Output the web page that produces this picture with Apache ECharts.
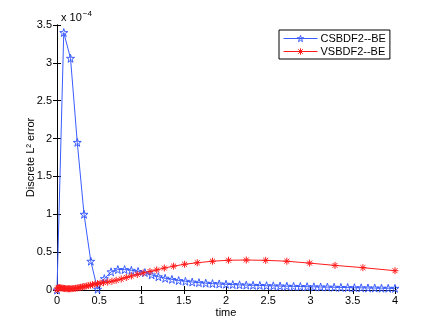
<!DOCTYPE html>
<html>
<head>
<meta charset="utf-8">
<script src="https://cdn.jsdelivr.net/npm/echarts@6/dist/echarts.min.js"></script>
<style>
  html, body { margin: 0; padding: 0; background: #fff; }
  #errChart { width: 436px; height: 327px; }
</style>
</head>
<body>
<div id="errChart"></div>
<script>
// time steps and errors (x 1e-4)
var csTime = [0, 0.08, 0.16, 0.24, 0.32, 0.40, 0.48, 0.56, 0.64, 0.72, 0.80, 0.88, 0.96, 1.04, 1.12, 1.20,
    1.28, 1.36, 1.44, 1.52, 1.60, 1.68, 1.76, 1.84, 1.92, 2.00, 2.08, 2.16, 2.24, 2.32, 2.40, 2.48, 2.56,
    2.64, 2.72, 2.80, 2.88, 2.96, 3.04, 3.12, 3.20, 3.28, 3.36, 3.44, 3.52, 3.60, 3.68, 3.76, 3.84, 3.92, 4.00];
var csErr = [0, 3.40, 3.06, 1.95, 1.00, 0.38, 0.01, 0.15, 0.24, 0.27, 0.27, 0.26, 0.245, 0.23, 0.20, 0.175,
    0.155, 0.14, 0.125, 0.115, 0.105, 0.097, 0.09, 0.085, 0.08, 0.076, 0.072, 0.068, 0.065, 0.062, 0.06, 0.057, 0.055,
    0.052, 0.05, 0.048, 0.046, 0.044, 0.042, 0.04, 0.038, 0.036, 0.034, 0.032, 0.03, 0.029, 0.027, 0.026, 0.024, 0.023, 0.022];

var vsTime = [0, 0.01, 0.02, 0.03, 0.045, 0.06, 0.075, 0.09, 0.105, 0.12, 0.135, 0.15, 0.165, 0.18, 0.2, 0.22,
    0.24, 0.26, 0.28, 0.3, 0.32, 0.345, 0.37, 0.395, 0.42, 0.45, 0.48, 0.51, 0.55, 0.6, 0.65, 0.7, 0.76, 0.82,
    0.88, 0.95, 1.02, 1.1, 1.18, 1.27, 1.38, 1.51, 1.66, 1.84, 2.03, 2.24, 2.47, 2.72, 2.99, 3.29, 3.62, 4.0];
var vsErr = [0, 0.025, 0.03, 0.03, 0.028, 0.025, 0.022, 0.02, 0.018, 0.017, 0.016, 0.016, 0.017, 0.018, 0.02, 0.023,
    0.027, 0.031, 0.036, 0.041, 0.046, 0.052, 0.058, 0.064, 0.07, 0.077, 0.083, 0.09, 0.097, 0.105, 0.115, 0.128, 0.145, 0.165,
    0.185, 0.205, 0.225, 0.245, 0.265, 0.29, 0.315, 0.34, 0.36, 0.38, 0.393, 0.396, 0.392, 0.38, 0.355, 0.325, 0.295, 0.255];

var seriesNames = ['CSBDF2--BE', 'VSBDF2--BE'];

function pairs(xs, ys) {
    var out = [];
    for (var i = 0; i < xs.length; i++) out.push([xs[i], ys[i]]);
    return out;
}

var starPath = 'path://M0,-10L2.245,-3.09L9.51,-3.09L3.63,1.18L5.88,8.09L0,3.82L-5.88,8.09L-3.63,1.18L-9.51,-3.09L-2.245,-3.09Z';
var asteriskPath = 'path://M0,-10L0,10M-10,0L10,0M-7.07,-7.07L7.07,7.07M-7.07,7.07L7.07,-7.07';

var fontName = 'Liberation Sans';
var blue = '#3a5cff';
var red = '#ff1a1a';
var clear = 'rgba(255,255,255,0)';

var option = {
    animation: false,
    backgroundColor: '#fff',
    textStyle: { fontFamily: fontName },
    grid: { left: 57, right: 41, top: 25, bottom: 37 },
    title: {
        text: 'x 10{s|\u22124}',
        left: 56, top: 5,
        textStyle: {
            fontFamily: fontName, fontSize: 11, fontWeight: 'normal', color: '#000',
            rich: { s: { fontSize: 8, verticalAlign: 'top', padding: [0, 0, 8, 1], fontFamily: fontName, color: '#000' } }
        }
    },
    legend: {
        orient: 'vertical',
        left: 279, top: 30,
        padding: [3, 4, 2, 4],
        itemGap: 2,
        itemWidth: 34, itemHeight: 8,
        backgroundColor: '#fff',
        borderColor: '#000', borderWidth: 1,
        textStyle: { fontFamily: fontName, fontSize: 11, color: '#000', padding: [0, 0, 0, -2] },
        data: [{
            name: seriesNames[0],
            itemStyle: { color: clear, borderColor: blue, borderWidth: 1 },
            lineStyle: { color: blue, width: 1 }
        }, {
            name: seriesNames[1],
            itemStyle: { color: clear, borderColor: red, borderWidth: 1 },
            lineStyle: { color: red, width: 1 }
        }]
    },
    xAxis: [{
        type: 'value', min: 0, max: 4, interval: 0.5,
        name: 'time', nameLocation: 'middle', nameGap: 17, nameMoveOverlap: false,
        nameTextStyle: { fontFamily: fontName, fontSize: 11, color: '#000' },
        axisLine: { lineStyle: { color: '#000' } },
        axisTick: { inside: true, length: 4, lineStyle: { color: '#000' } },
        axisLabel: { color: '#000', fontSize: 11, margin: 5, fontFamily: fontName },
        splitLine: { show: false }
    }, {
        type: 'value', min: 0, max: 4, interval: 0.5, position: 'top',
        axisLine: { lineStyle: { color: '#000' } },
        axisTick: { inside: true, length: 4, lineStyle: { color: '#000' } },
        axisLabel: { show: false },
        splitLine: { show: false }
    }],
    yAxis: [{
        type: 'value', min: 0, max: 3.5, interval: 0.5,
        name: 'Discrete L\u00b2 error', nameLocation: 'middle', nameGap: 21, nameMoveOverlap: false,
        nameTextStyle: { fontFamily: fontName, fontSize: 11, color: '#000' },
        axisLine: { show: true, lineStyle: { color: '#000' } },
        axisTick: { show: true, inside: true, length: 4, lineStyle: { color: '#000' } },
        axisLabel: { color: '#000', fontSize: 11, margin: 5, fontFamily: fontName },
        splitLine: { show: false }
    }, {
        type: 'value', min: 0, max: 3.5, interval: 0.5, position: 'right',
        axisLine: { show: true, lineStyle: { color: '#000' } },
        axisTick: { show: true, inside: true, length: 4, lineStyle: { color: '#000' } },
        axisLabel: { show: false },
        splitLine: { show: false }
    }],
    series: [{
        name: seriesNames[0],
        type: 'line',
        data: pairs(csTime, csErr),
        symbol: starPath,
        symbolSize: 8,
        lineStyle: { color: blue, width: 1 },
        itemStyle: { color: clear, borderColor: blue, borderWidth: 1 }
    }, {
        name: seriesNames[1],
        type: 'line',
        data: pairs(vsTime, vsErr),
        symbol: asteriskPath,
        symbolSize: 7,
        lineStyle: { color: red, width: 1 },
        itemStyle: { color: clear, borderColor: red, borderWidth: 1 }
    }]
};

var errChart = echarts.init(document.getElementById('errChart'));
errChart.setOption(option);
</script>
</body>
</html>
